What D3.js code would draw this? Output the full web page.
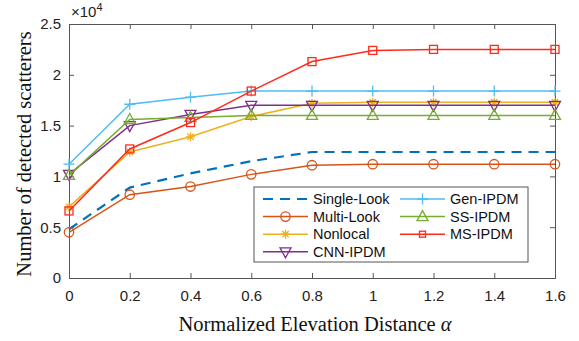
<!DOCTYPE html>
<html>
<head>
<meta charset="utf-8">
<script src="https://cdn.jsdelivr.net/npm/d3@7"></script>
<style>
  body { margin: 0; background: #fff; }
  svg { display: block; }
  .tick text { font-family: "Liberation Sans", Arial, sans-serif; font-size: 15px; fill: #222; }
</style>
</head>
<body>
<div class="viz"></div>
<script>
// alpha values along x
var alphas = [0, 0.2, 0.4, 0.6, 0.8, 1.0, 1.2, 1.4, 1.6];

// detected scatterers (x 10^4)
var singleLook = [0.48, 0.89, 1.03, 1.15, 1.24, 1.24, 1.24, 1.24, 1.24];
var multiLook  = [0.45, 0.82, 0.90, 1.02, 1.11, 1.12, 1.12, 1.12, 1.12];
var nonlocal   = [0.70, 1.24, 1.39, 1.59, 1.72, 1.73, 1.73, 1.73, 1.73];
var cnnIpdm    = [1.02, 1.50, 1.61, 1.70, 1.70, 1.70, 1.70, 1.70, 1.70];
var genIpdm    = [1.12, 1.71, 1.78, 1.84, 1.84, 1.84, 1.84, 1.84, 1.84];
var ssIpdm     = [1.01, 1.56, 1.58, 1.60, 1.60, 1.60, 1.60, 1.60, 1.60];
var msIpdm     = [0.66, 1.27, 1.53, 1.84, 2.13, 2.24, 2.25, 2.25, 2.25];

var xTicks = [0, 0.2, 0.4, 0.6, 0.8, 1, 1.2, 1.4, 1.6];
var yTicks = [0, 0.5, 1, 1.5, 2, 2.5];

var series = [
    {name: 'Single-Look', values: singleLook, color: '#0072BD', marker: 'none', dash: '10,7', width: 2.2},
    {name: 'Multi-Look', values: multiLook, color: '#D95319', marker: 'circle'},
    {name: 'Nonlocal', values: nonlocal, color: '#EDB120', marker: 'star'},
    {name: 'CNN-IPDM', values: cnnIpdm, color: '#7E2F8E', marker: 'tridown'},
    {name: 'Gen-IPDM', values: genIpdm, color: '#4DBEEE', marker: 'plus'},
    {name: 'SS-IPDM', values: ssIpdm, color: '#77AC30', marker: 'triup'},
    {name: 'MS-IPDM', values: msIpdm, color: '#FF2A1A', marker: 'square'}
];

var W = 579, H = 341;
var margin = {top: 24, right: 24, bottom: 63, left: 69};
var width = W - margin.left - margin.right,
    height = H - margin.top - margin.bottom;

var svg = d3.select('.viz').append('svg')
    .attr('width', W)
    .attr('height', H);

var x = d3.scaleLinear().domain([0, 1.6]).range([0, width]);
var y = d3.scaleLinear().domain([0, 2.5]).range([height, 0]);

var g = svg.append('g')
    .attr('transform', 'translate(' + margin.left + ',' + margin.top + ')');

var axisColor = '#555';

// axes (ticks inward, like matlab)
var xAxis = g.append('g')
    .attr('transform', 'translate(0,' + height + ')')
    .call(d3.axisBottom(x).tickValues(xTicks).tickSize(-5).tickPadding(12)
        .tickFormat(function(d) { return String(+d.toFixed(1)); }));
var yAxis = g.append('g')
    .call(d3.axisLeft(y).tickValues(yTicks).tickSize(-5).tickPadding(8)
        .tickFormat(function(d) { return String(d); }));
var xTop = g.append('g')
    .call(d3.axisTop(x).tickValues(xTicks).tickSize(-5).tickFormat(''));
var yRight = g.append('g')
    .attr('transform', 'translate(' + width + ',0)')
    .call(d3.axisRight(y).tickValues(yTicks).tickSize(-5).tickFormat(''));

[xAxis, yAxis, xTop, yRight].forEach(function(a) {
    a.selectAll('path.domain').attr('stroke', axisColor).attr('stroke-width', 1);
    a.selectAll('.tick line').attr('stroke', axisColor);
});
xAxis.selectAll('.tick text').attr('dy', '0.71em');

// exponent label
var expo = svg.append('text')
    .attr('x', margin.left + 2)
    .attr('y', 17)
    .style('font-family', '"Liberation Sans", Arial, sans-serif')
    .style('font-size', '15px')
    .attr('fill', '#222');
expo.append('tspan').text('\u00d710');
expo.append('tspan').attr('dy', -6).style('font-size', '11px').text('4');

// axis titles
svg.append('text')
    .attr('x', margin.left + width / 2 + 3)
    .attr('y', 331)
    .attr('text-anchor', 'middle')
    .style('font-family', '"Liberation Serif", "Times New Roman", serif')
    .style('font-size', '20.5px')
    .attr('fill', '#111')
    .html('Normalized Elevation Distance <tspan font-style="italic">\u03b1</tspan>');

svg.append('text')
    .attr('transform', 'translate(31,154) rotate(-90)')
    .attr('text-anchor', 'middle')
    .style('font-family', '"Liberation Serif", "Times New Roman", serif')
    .style('font-size', '20.5px')
    .attr('fill', '#111')
    .text('Number of detected scatterers');

function drawMarker(sel, type, color, small) {
    var sw = 1.3;
    if (type === 'circle') {
        sel.append('circle').attr('r', 4.7).attr('fill', 'none').attr('stroke', color).attr('stroke-width', sw);
    } else if (type === 'square') {
        var h = small ? 3 : 4;
        sel.append('rect').attr('x', -h).attr('y', -h).attr('width', 2 * h).attr('height', 2 * h)
            .attr('fill', 'none').attr('stroke', color).attr('stroke-width', sw);
    } else if (type === 'plus') {
        sel.append('path').attr('d', 'M-5.5,0H5.5M0,-5.5V5.5').attr('stroke', color).attr('stroke-width', sw);
    } else if (type === 'star') {
        sel.append('path').attr('d', 'M-4.5,0H4.5M0,-4.5V4.5M-3.2,-3.2L3.2,3.2M-3.2,3.2L3.2,-3.2')
            .attr('stroke', color).attr('stroke-width', sw);
    } else if (type === 'triup') {
        sel.append('path').attr('d', 'M0,-6L5.5,4H-5.5Z').attr('fill', 'none').attr('stroke', color).attr('stroke-width', sw);
    } else if (type === 'tridown') {
        sel.append('path').attr('d', 'M0,6L5.5,-4H-5.5Z').attr('fill', 'none').attr('stroke', color).attr('stroke-width', sw);
    }
}

var line = d3.line()
    .x(function(d, i) { return x(alphas[i]); })
    .y(function(d) { return y(d); });

series.forEach(function(s) {
    g.append('path')
        .datum(s.values)
        .attr('d', line)
        .attr('fill', 'none')
        .attr('stroke', s.color)
        .attr('stroke-width', s.width || 1.5)
        .attr('stroke-dasharray', s.dash || null);
    if (s.marker !== 'none') {
        s.values.forEach(function(v, i) {
            var m = g.append('g').attr('transform', 'translate(' + x(alphas[i]) + ',' + y(v) + ')');
            drawMarker(m, s.marker, s.color, false);
        });
    }
});

// legend
var legend = svg.append('g').attr('transform', 'translate(254,187)');
legend.append('rect')
    .attr('width', 274).attr('height', 75)
    .attr('fill', '#fff').attr('stroke', axisColor).attr('stroke-width', 1);

series.forEach(function(s, i) {
    var col = i < 4 ? 0 : 1;
    var row = i < 4 ? i : i - 4;
    var lx = col === 0 ? 9 : 146;
    var ly = 12 + row * 17.6;
    var item = legend.append('g').attr('transform', 'translate(' + lx + ',' + ly + ')');
    item.append('line')
        .attr('x1', 0).attr('x2', 45).attr('y1', 0).attr('y2', 0)
        .attr('stroke', s.color)
        .attr('stroke-width', s.width || 1.5)
        .attr('stroke-dasharray', s.dash || null);
    if (s.marker !== 'none') {
        var m = item.append('g').attr('transform', 'translate(22.5,0)');
        drawMarker(m, s.marker, s.color, true);
    }
    item.append('text')
        .attr('x', 50).attr('y', 0).attr('dy', '0.35em')
        .style('font-family', '"Liberation Sans", Arial, sans-serif')
        .style('font-size', '14.5px')
        .attr('fill', '#111')
        .text(s.name);
});
</script>
</body>
</html>
